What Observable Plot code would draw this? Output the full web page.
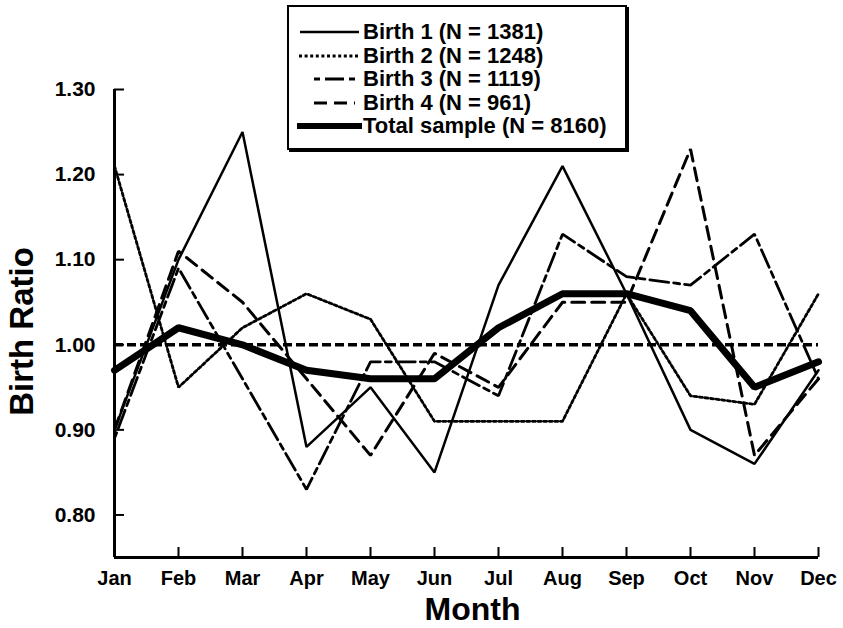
<!DOCTYPE html>
<html><head><meta charset="utf-8">
<script src="https://cdn.jsdelivr.net/npm/d3@7"></script>
<script src="https://cdn.jsdelivr.net/npm/@observablehq/plot@0.6"></script>
<style>
body{margin:0;background:#fff;font-family:"Liberation Sans",Arial,sans-serif;}
#wrap{position:relative;width:843px;height:628px;}
#legend{position:absolute;left:287px;top:5px;width:340px;height:145px;border:2px solid #000;box-shadow:2px 2px 0 #000;background:#fff;box-sizing:border-box;}
.row{position:absolute;left:0;height:24px;display:flex;align-items:center;font-weight:bold;font-size:22px;white-space:nowrap;}
.row svg{display:block;}
</style></head>
<body><div id="wrap"></div>
<script>
const months = ["Jan","Feb","Mar","Apr","May","Jun","Jul","Aug","Sep","Oct","Nov","Dec"];
const birth1 = [0.90, 1.10, 1.25, 0.88, 0.95, 0.85, 1.07, 1.21, 1.06, 0.90, 0.86, 0.97];
const birth2 = [1.21, 0.95, 1.02, 1.06, 1.03, 0.91, 0.91, 0.91, 1.06, 0.94, 0.93, 1.06];
const birth3 = [0.89, 1.09, 0.96, 0.83, 0.98, 0.98, 0.94, 1.13, 1.08, 1.07, 1.13, 0.96];
const birth4 = [0.90, 1.11, 1.05, 0.96, 0.87, 0.99, 0.95, 1.05, 1.05, 1.23, 0.87, 0.96];
const total  = [0.97, 1.02, 1.00, 0.97, 0.96, 0.96, 1.02, 1.06, 1.06, 1.04, 0.95, 0.98];
const seriesNames = ["Birth 1 (N = 1381)","Birth 2 (N = 1248)","Birth 3 (N = 1119)","Birth 4 (N = 961)","Total sample (N = 8160)"];
const yTicks = [0.80, 0.90, 1.00, 1.10, 1.20, 1.30];
const yDomain = [0.75, 1.30];
const reference = [1.00];

const styles = [
  {w:2.5, dash:null, lx1:11, lx2:70},
  {w:2.8, dash:"3,2.6", lx1:10, lx2:70},
  {w:2.8, dash:"6,5,19,5", lx1:25, lx2:66},
  {w:3, dash:"13,7", lx1:25, lx2:66},
  {w:7, dash:null, lx1:8, lx2:73}
];
const valuesBySeries = [birth1, birth2, birth3, birth4, total];
const data = valuesBySeries.map((vals, s) => vals.map((v, i) => ({series: seriesNames[s], month: months[i], value: v})));

const marks = [
  Plot.ruleY(reference, {stroke:"black", strokeWidth:3.5, strokeDasharray:"9,4"}),
  ...data.map((d, s) => Plot.line(d, {x:"month", y:"value", stroke:"black", strokeWidth: styles[s].w, strokeDasharray: styles[s].dash, strokeLinejoin:"miter"})),
  Plot.ruleY([yDomain[0]], {stroke:"black", strokeWidth:3}),
  Plot.ruleX([months[0]], {stroke:"black", strokeWidth:3}),
  Plot.axisY({ticks: yTicks, tickSize: 0, tickPadding: 19, tickFormat: d3.format(".2f"), fontSize: 21, label: null}),
  Plot.axisY({ticks: yTicks, tickSize: 10, dx: 10, tickFormat: () => "", strokeWidth: 2, label: null}),
  Plot.axisX({tickSize: 0, tickPadding: 13, fontSize: 20, label: null}),
  Plot.axisX({tickSize: 10, dy: -10, tickFormat: () => "", strokeWidth: 2, label: null}),
  Plot.text(["Birth Ratio"], {frameAnchor:"left", rotate:-90, dx:-92, dy:8, textAnchor:"middle", lineAnchor:"middle", fontSize:33, fontWeight:"bold"}),
  Plot.text(["Month"], {frameAnchor:"bottom", dy:52, dx:6, textAnchor:"middle", lineAnchor:"middle", fontSize:32, fontWeight:"bold"})
];

const chart = Plot.plot({
  width: 843, height: 628,
  marginLeft: 114, marginRight: 25, marginTop: 89, marginBottom: 71,
  x: {type:"point", domain: months, padding: 0},
  y: {domain: yDomain},
  style: {fontFamily: '"Liberation Sans", Arial, sans-serif', fontWeight: "bold", color: "black", background: "white"},
  marks
});
const wrap = document.getElementById("wrap");
wrap.appendChild(chart);

// legend
const legend = document.createElement("div");
legend.id = "legend";
const ns = "http://www.w3.org/2000/svg";
seriesNames.forEach((name, s) => {
  const row = document.createElement("div");
  row.className = "row";
  row.style.top = (13 + s * 23.5) + "px";
  const st = styles[s];
  const svg = document.createElementNS(ns, "svg");
  svg.setAttribute("width", 74); svg.setAttribute("height", 12);
  const ln = document.createElementNS(ns, "line");
  ln.setAttribute("x1", st.lx1); ln.setAttribute("x2", st.lx2); ln.setAttribute("y1", 6); ln.setAttribute("y2", 6);
  ln.setAttribute("stroke", "black"); ln.setAttribute("stroke-width", Math.min(st.w, 6));
  if (st.dash) ln.setAttribute("stroke-dasharray", st.dash);
  svg.appendChild(ln);
  row.appendChild(svg);
  const t = document.createElement("span");
  t.textContent = name;
  row.appendChild(t);
  legend.appendChild(row);
});
wrap.appendChild(legend);
</script>
</body></html>
